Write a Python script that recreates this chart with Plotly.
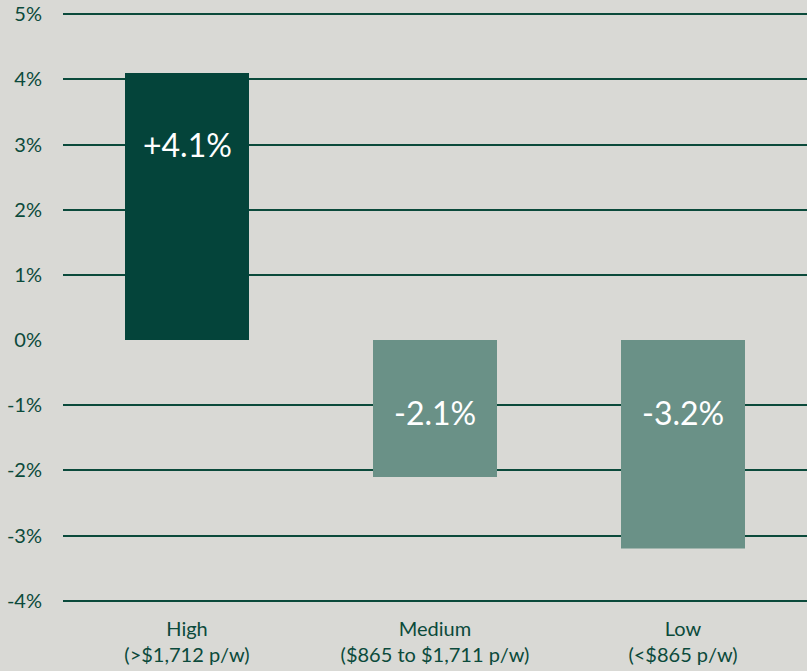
import plotly.graph_objects as go

# income groups and change in value
categories = ["High<br>(>$1,712 p/w)", "Medium<br>($865 to $1,711 p/w)", "Low<br>(<$865 p/w)"]
changes = [4.1, -2.1, -3.2]
labels = ["+4.1%", "-2.1%", "-3.2%"]
bar_colors = ["#04443a", "#6a9187", "#6a9187"]

tick_vals = [5, 4, 3, 2, 1, 0, -1, -2, -3, -4]
tick_text = [str(v) + "%" for v in tick_vals]

bg = "#d9d9d5"
ink = "#0b4a3b"
font = "Lato, 'Open Sans', sans-serif"

fig = go.Figure(go.Bar(x=categories, y=changes, marker_color=bar_colors,
                       marker_line_width=0, width=0.5, hoverinfo="skip"))

# value labels sit a fixed distance under the top edge of each bar
for cat, v, lab in zip(categories, changes, labels):
    fig.add_annotation(x=cat, y=max(v, 0), text=lab, showarrow=False,
                       yanchor="middle", yshift=-72,
                       font=dict(family=font, size=32, color="white"))

fig.update_layout(
    width=807, height=671,
    margin=dict(l=63, r=0, t=11, b=67),
    paper_bgcolor=bg, plot_bgcolor=bg,
    showlegend=False,
    bargap=0.5,
    font=dict(family=font, size=20, color=ink),
)
fig.update_xaxes(showgrid=False, showline=False, zeroline=False, ticks="",
                 automargin=False, ticklabelstandoff=11,
                 tickfont=dict(size=20, color=ink))
fig.update_yaxes(range=[-4.05, 5.05], tickvals=tick_vals, ticktext=tick_text,
                 showgrid=True, gridcolor=ink, gridwidth=2,
                 zeroline=True, zerolinecolor=bg, zerolinewidth=3,
                 showline=False, ticks="", ticklabelstandoff=20,
                 automargin=False, ticklabeloverflow="allow",
                 tickfont=dict(size=20, color=ink))

# drop the default page margin so the chart sits flush in the window
fig.write_html("out.html", config={"displayModeBar": False},
               post_script="document.body.style.margin='0';")
